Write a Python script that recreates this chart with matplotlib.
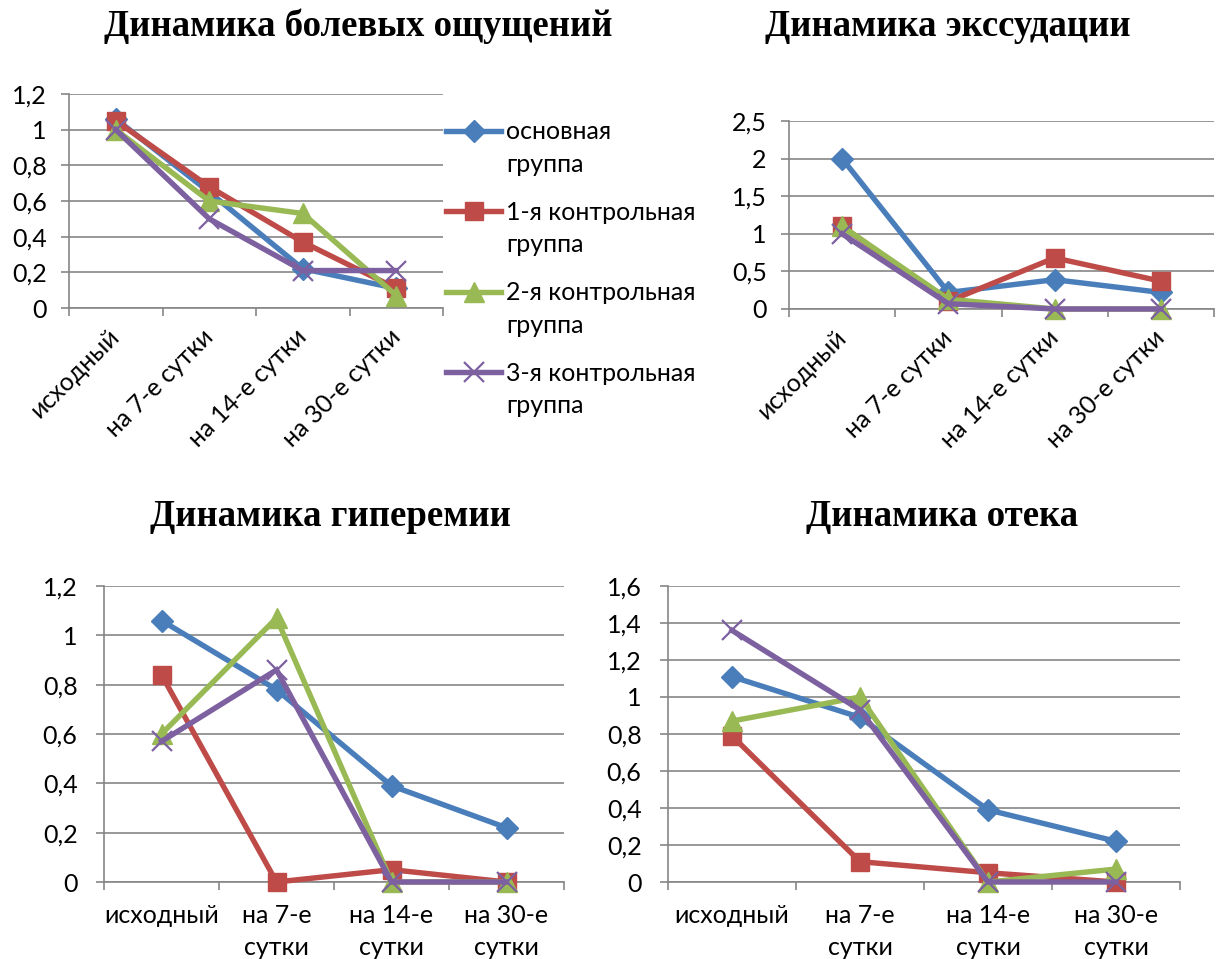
import numpy as np
import matplotlib
matplotlib.use("Agg")
import matplotlib.pyplot as plt
from matplotlib.legend_handler import HandlerLine2D

plt.rcParams['font.family'] = ['Lato', 'DejaVu Sans']

# ---------------- data ----------------
categories_rot = ["исходный", "на 7-е сутки", "на 14-е сутки", "на 30-е сутки"]
categories_wrap = ["исходный", "на 7-е\nсутки", "на 14-е\nсутки", "на 30-е\nсутки"]
series_names = ["основная\nгруппа", "1-я контрольная\nгруппа",
                "2-я контрольная\nгруппа", "3-я контрольная\nгруппа"]

titles = ["Динамика болевых ощущений", "Динамика экссудации",
          "Динамика гиперемии", "Динамика отека"]

pain_main = [1.06, 0.65, 0.22, 0.11]
pain_c1 = [1.05, 0.68, 0.37, 0.11]
pain_c2 = [1.00, 0.60, 0.53, 0.07]
pain_c3 = [1.00, 0.50, 0.21, 0.21]

exud_main = [2.00, 0.22, 0.39, 0.22]
exud_c1 = [1.10, 0.10, 0.68, 0.37]
exud_c2 = [1.10, 0.13, 0.00, 0.00]
exud_c3 = [1.00, 0.07, 0.00, 0.00]

hyper_main = [1.06, 0.78, 0.39, 0.22]
hyper_c1 = [0.84, 0.00, 0.05, 0.00]
hyper_c2 = [0.60, 1.07, 0.00, 0.00]
hyper_c3 = [0.57, 0.86, 0.00, 0.00]

edema_main = [1.11, 0.89, 0.39, 0.22]
edema_c1 = [0.79, 0.11, 0.05, 0.00]
edema_c2 = [0.87, 1.00, 0.00, 0.07]
edema_c3 = [1.36, 0.93, 0.00, 0.00]

y_max = [1.2, 2.5, 1.2, 1.6]
y_step = [0.2, 0.5, 0.2, 0.2]

# ---------------- style ----------------
colors = ["#4A7EBB", "#BE4B48", "#98B954", "#7D60A0"]
markers = ["D", "s", "^", "x"]
msizes = [11, 13, 15, 14]
grid_c = "#868686"
W, H = 1220, 959
FS = 18

fig = plt.figure(figsize=(W / 100, H / 100), dpi=100)

def px_axes(l, r, t, b):
    return fig.add_axes([l / W, 1 - b / H, (r - l) / W, (b - t) / H])

axes_boxes = [(69, 443, 94, 308), (789, 1214, 121, 309),
              (104, 564, 586, 882), (668, 1180, 586, 882)]
data_sets = [[pain_main, pain_c1, pain_c2, pain_c3],
             [exud_main, exud_c1, exud_c2, exud_c3],
             [hyper_main, hyper_c1, hyper_c2, hyper_c3],
             [edema_main, edema_c1, edema_c2, edema_c3]]

def fmt(v):
    s = ("%.1f" % v).rstrip("0").rstrip(".")
    return s.replace(".", ",")

lines_for_legend = []
for i, (box, ds) in enumerate(zip(axes_boxes, data_sets)):
    ax = px_axes(*box)
    x = np.arange(len(categories_rot)) + 0.5
    for j, vals in enumerate(ds):
        mew = 1.6 if markers[j] == "x" else 1.0
        ln, = ax.plot(x, vals, color=colors[j], lw=3.9, marker=markers[j],
                      markersize=msizes[j], markeredgewidth=mew,
                      markeredgecolor=colors[j], markerfacecolor=colors[j],
                      solid_joinstyle="miter", clip_on=False, zorder=3)
        if i == 0:
            lines_for_legend.append(ln)
    ax.set_xlim(0, 4)
    ax.set_ylim(0, y_max[i])
    yt = np.arange(0, y_max[i] + 1e-9, y_step[i])
    ax.set_yticks(yt)
    ax.set_yticklabels([fmt(v) for v in yt])
    ax.yaxis.grid(True, color=grid_c, lw=1.2)
    ax.set_axisbelow(True)
    for s in ["top", "right"]:
        ax.spines[s].set_visible(False)
    for s in ["left", "bottom"]:
        ax.spines[s].set_color(grid_c)
        ax.spines[s].set_linewidth(1.2)
    ax.set_xticks(np.arange(0, 5))
    ax.set_xticklabels([])
    ax.tick_params(axis="x", which="major", length=6, color=grid_c, width=1.2)
    ax.set_xticks(x, minor=True)
    ax.tick_params(axis="y", length=6, color=grid_c, width=1.2,
                   pad=10 if i < 2 else 13, labelsize=FS)
    if i < 2:
        ax.set_xticklabels(categories_rot, minor=True, rotation=45,
                           ha="right", va="center", rotation_mode="anchor")
        ax.tick_params(axis="x", which="minor", length=0, pad=18, labelsize=FS)
    else:
        ax.set_xticklabels(categories_wrap, minor=True, linespacing=1.45,
                           va="top")
        ax.tick_params(axis="x", which="minor", length=0, pad=16, labelsize=FS)

title_pos = [(358, 26), (948, 26), (330, 517), (942, 517)]
for t, (tx, ty) in zip(titles, title_pos):
    fig.text(tx / W, 1 - ty / H, t, ha="center", va="center",
             family="Liberation Serif", fontweight="bold", fontsize=26.5)


class TopHandler(HandlerLine2D):
    def create_artists(self, legend, orig_handle, xdescent, ydescent, width,
                       height, fontsize, trans):
        arts = super().create_artists(legend, orig_handle, xdescent, ydescent,
                                      width, height, fontsize, trans)
        for a in arts:
            a.set_ydata(np.asarray(a.get_ydata(), dtype=float) + 0.72 * fontsize)
        return arts


leg = fig.legend(lines_for_legend, series_names, loc="upper left",
                 bbox_to_anchor=(446 / W, 1 - 120 / H), frameon=False,
                 fontsize=FS, handlelength=2.2, handletextpad=0.2,
                 labelspacing=1.0, borderaxespad=0, borderpad=0,
                 handler_map={l: TopHandler(numpoints=1) for l in lines_for_legend})
for t in leg.get_texts():
    t.set_linespacing(1.5)

fig.savefig("out.png", dpi=100)
